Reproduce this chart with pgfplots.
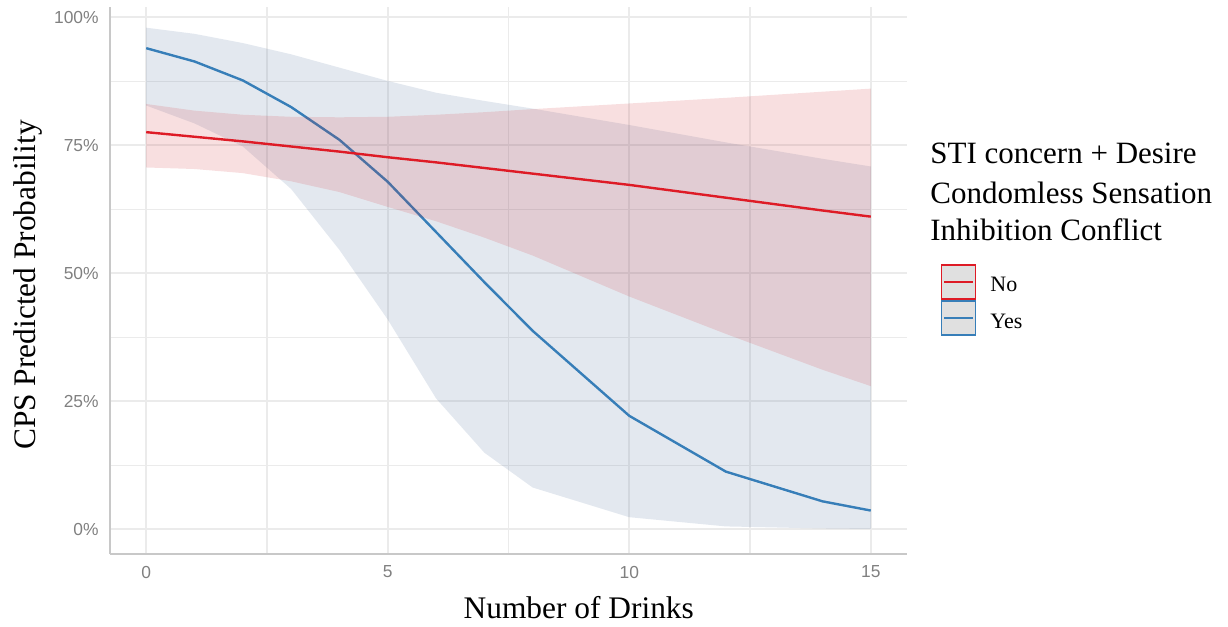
\documentclass[border=0pt]{standalone}
\usepackage{fontspec}
\setmainfont{Liberation Serif}
\newfontfamily\sansf{Liberation Sans}
\usepackage{pgfplots}
\pgfplotsset{compat=1.18}
\definecolor{setred}{HTML}{DE1B26}
\definecolor{setblue}{HTML}{377EB8}
\definecolor{ribred}{RGB}{208,42,48}
\definecolor{ribblue}{RGB}{68,102,148}
\definecolor{gridgrey}{HTML}{EBEBEB}
\definecolor{axgrey}{HTML}{C8C8C8}
\definecolor{tickgrey}{HTML}{808080}
\definecolor{keygrey}{HTML}{E0E0E0}
\begin{document}
\begin{tikzpicture}[x=1pt,y=1pt]
\useasboundingbox (0,0) rectangle (614,-313.5);
\begin{axis}[
  at={(55pt,-276.85pt)}, anchor=south west,
  scale only axis, width=398.5pt, height=273.5pt,
  xmin=-0.75, xmax=15.75, ymin=-4.73, ymax=102.1,
  xtick={0,5,10,15}, ytick={0,25,50,75,100},
  yticklabels={0\%,25\%,50\%,75\%,100\%},
  minor xtick={2.5,7.5,12.5}, minor ytick={12.5,37.5,62.5,87.5},
  grid=both,
  major grid style={draw=gridgrey, line width=1pt},
  minor grid style={draw=gridgrey, line width=0.9pt},
  major tick length=0pt, minor tick length=0pt,
  axis x line*=bottom, axis y line*=left,
  axis line style={-, draw=axgrey, line width=0.9pt},
  /pgf/number format/assume math mode=true,
  tick label style={font=\sansf\fontsize{8.7}{10}\selectfont, text=tickgrey},
  xticklabel style={anchor=north, inner sep=0pt, yshift=-5.9pt},
  yticklabel style={anchor=east, inner sep=0pt, xshift=-5.5pt},
]
% Yes ribbon (upper then lower reversed)
\addplot[draw=none, fill=ribblue, fill opacity=0.15] coordinates {
 (0,98.0) (1,96.8) (2,95.0) (3,92.8) (4,90.2) (5,87.6) (6,85.3) (7,83.7) (8,82.2) (10,79.0) (12,75.6) (14,72.4) (15,70.9)
 (15,0.1) (14,0.2) (12,0.6) (10,2.4) (8,8.2) (7,15.0) (6,25.6) (5,41.0) (4,54.6) (3,66.5) (2,74.8) (1,79.3) (0,82.8)
} -- cycle;
% Yes line
\addplot[setblue, line width=1.2pt] coordinates {
 (0,94.0) (1,91.4) (2,87.7) (3,82.5) (4,76.1) (5,67.9) (6,58.1) (7,48.3) (8,38.8) (10,22.2) (12,11.3) (14,5.5) (15,3.7)
};
% No ribbon
\addplot[draw=none, fill=ribred, fill opacity=0.15] coordinates {
 (0,83.1) (1,81.8) (2,81.0) (3,80.6) (4,80.5) (5,80.6) (6,81.0) (7,81.5) (8,82.1) (10,83.2) (12,84.3) (14,85.5) (15,86.1)
 (15,28.0) (14,31.2) (12,38.2) (10,45.5) (8,53.5) (7,57.0) (6,60.2) (5,63.0) (4,65.9) (3,68.0) (2,69.6) (1,70.4) (0,70.7)
} -- cycle;
% No line
\addplot[setred, line width=1.2pt] coordinates {
 (0,77.6) (1,76.7) (2,75.8) (3,74.8) (4,73.8) (5,72.7) (6,71.7) (7,70.6) (8,69.5) (10,67.3) (12,64.8) (14,62.3) (15,61.1)
};
\end{axis}
% axis titles
\node[anchor=base, inner sep=0pt, font=\fontsize{15.7}{19}\selectfont] at (289.4,-309) {Number of Drinks};
\node[anchor=base, rotate=90, inner sep=0pt, font=\fontsize{15.7}{19}\selectfont] at (17.5,-142.5) {CPS Predicted Probability};
% legend title
\node[anchor=base west, inner sep=0pt, font=\fontsize{15.5}{19}\selectfont] at (465,-81.5) {STI concern + Desire};
\node[anchor=base west, inner sep=0pt, font=\fontsize{15.5}{19}\selectfont] at (465,-101.5) {Condomless Sensation};
\node[anchor=base west, inner sep=0pt, font=\fontsize{15.5}{19}\selectfont] at (465,-120) {Inhibition Conflict};
% legend keys
\draw[setred, line width=0.9pt, fill=keygrey] (470.75,-132.65) rectangle (487.75,-149.5);
\draw[setred, line width=1.2pt] (472.2,-141.1) -- (486.3,-141.1);
\draw[setblue, line width=0.9pt, fill=keygrey] (470.75,-150.6) rectangle (487.75,-167.55);
\draw[setblue, line width=1.2pt] (472.2,-159.1) -- (486.3,-159.1);
\node[anchor=base west, inner sep=0pt, font=\fontsize{11}{13}\selectfont] at (495,-145.75) {No};
\node[anchor=base west, inner sep=0pt, font=\fontsize{11}{13}\selectfont] at (495,-164) {Yes};
\end{tikzpicture}
\end{document}
